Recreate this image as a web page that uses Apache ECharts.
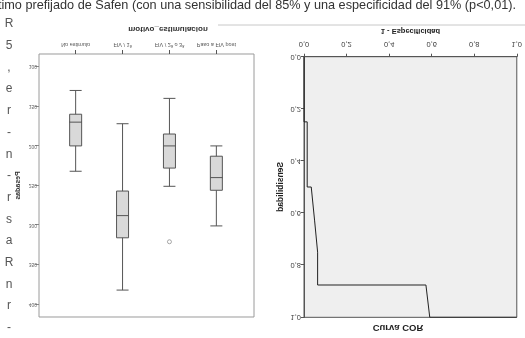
<!DOCTYPE html>
<html>
<head>
<meta charset="utf-8">
<script src="https://cdn.jsdelivr.net/npm/echarts@6/dist/echarts.min.js"></script>
<style>
html,body{margin:0;padding:0;background:#fff;}
#page,#flip{position:absolute;left:0;top:0;width:525px;height:338px;}
#flip{transform:scaleY(-1);}
</style>
</head>
<body>
<div id="page"></div>
<div id="flip"></div>
<script>
// ---- data ----
const categories = ['No estimulo', 'FIV / 1ª', 'FIV / 2ª o 3ª', 'Paso a FIV post'];
const boxMin    = [130, 172, 140, 200];
const boxQ1     = [160, 257, 185, 213];
const boxMedian = [170, 288, 200, 240];
const boxQ3     = [200, 316, 228, 256];
const boxMax    = [232, 382, 251, 301];
const outliers  = [[2, 321]];
const boxTicks  = [100, 150, 200, 250, 300, 350, 400];

const rocFpr = [0, 0, 0.015, 0.015, 0.034, 0.05, 0.064, 0.064, 0.573, 0.591, 1];
const rocTpr = [0, 0.25, 0.25, 0.5, 0.5, 0.63, 0.75, 0.876, 0.876, 1, 1];

const headerText = 'corte óptimo prefijado de Safen (con una sensibilidad del 85% y una especificidad del 91% (p<0,01).';
const marginChars = ['R', '5', ',', 'e', 'r', '-', 'n', '-', 'r', 's', 'a', 'R', 'n', 'r', '-'];

const FONT = 'Liberation Sans, Arial, sans-serif';

// ---- page (unflipped) ----
const page = echarts.init(document.getElementById('page'), null, {renderer: 'canvas'});
const pageGraphics = [
  {type: 'text', x: 516, y: 5, style: {text: headerText, font: '12.7px ' + FONT, fill: '#333', textAlign: 'right', textVerticalAlign: 'middle'}},
  {type: 'line', shape: {x1: 218, y1: 25, x2: 525, y2: 25}, style: {stroke: '#c8c8c8', lineWidth: 1}}
];
marginChars.forEach((c, i) => {
  pageGraphics.push({type: 'text', x: 9, y: 24 + i * 21.7, style: {text: c, font: '12px ' + FONT, fill: '#555', textAlign: 'center', textVerticalAlign: 'middle'}});
});
page.setOption({animation: false, graphic: pageGraphics});

// ---- charts (drawn upright, shown flipped like the scan) ----
const flip = echarts.init(document.getElementById('flip'), null, {renderer: 'canvas'});
const boxData = categories.map((c, i) => [boxMin[i], boxQ1[i], boxMedian[i], boxQ3[i], boxMax[i]]);
const fmt = v => v.toFixed(1).replace('.', ',');

flip.setOption({
  animation: false,
  backgroundColor: 'transparent',
  title: {
    text: 'Curva COR', left: 398, top: 5, textAlign: 'center', padding: 0,
    textStyle: {fontFamily: FONT, fontSize: 9.5, fontWeight: 'bold', color: '#222'}
  },
  grid: [
    {left: 39, right: 271, top: 21, bottom: 54, show: true, borderColor: '#9a9a9a', borderWidth: 1, backgroundColor: '#fff'},
    {left: 52.2, right: 285.2, top: 21, bottom: 54},
    {left: 304, right: 2.3, top: 20.7, bottom: 56.7, show: true, borderColor: '#555', borderWidth: 1, backgroundColor: '#efefef'}
  ],
  xAxis: [
    {gridIndex: 0, type: 'value', min: 0, max: 1, show: false},
    {
      gridIndex: 1, type: 'category', data: categories, position: 'bottom',
      axisLine: {show: false},
      axisTick: {show: true, alignWithLabel: true, length: 4, lineStyle: {color: '#555'}},
      axisLabel: {fontFamily: FONT, fontSize: 5.5, color: '#555', margin: 6, interval: 0, hideOverlap: false},
      name: 'motivo_estimulacion', nameLocation: 'middle', nameGap: 21,
      nameTextStyle: {fontFamily: FONT, fontSize: 8, fontWeight: 'bold', color: '#333', padding: [0, 0, 0, 44]}
    },
    {
      gridIndex: 2, type: 'value', min: 0, max: 1, interval: 0.2, position: 'bottom',
      axisLine: {lineStyle: {color: '#555'}},
      axisTick: {length: 3, lineStyle: {color: '#555'}},
      axisLabel: {fontFamily: FONT, fontSize: 7.5, color: '#444', margin: 9, formatter: fmt},
      splitLine: {show: false},
      name: '1 - Especificidad', nameLocation: 'middle', nameGap: 22,
      nameTextStyle: {fontFamily: FONT, fontSize: 7.5, fontWeight: 'bold', color: '#222'}
    }
  ],
  yAxis: [
    {
      gridIndex: 0, type: 'value', min: 84, max: 416,
      axisLine: {show: false},
      axisTick: {show: true, length: 4, customValues: boxTicks, lineStyle: {color: '#888'}},
      axisLabel: {fontFamily: FONT, fontSize: 5, color: '#666', margin: 2, customValues: boxTicks},
      splitLine: {show: false},
      name: 'Pesadas', nameLocation: 'middle', nameGap: 17,
      nameTextStyle: {fontFamily: FONT, fontSize: 7, fontWeight: 'bold', color: '#333'}
    },
    {gridIndex: 1, type: 'value', min: 84, max: 416, show: false},
    {
      gridIndex: 2, type: 'value', min: 0, max: 1, interval: 0.2,
      axisLine: {lineStyle: {color: '#555'}},
      axisTick: {length: 3, lineStyle: {color: '#555'}},
      axisLabel: {fontFamily: FONT, fontSize: 7.5, color: '#444', margin: 3, formatter: fmt},
      splitLine: {show: false},
      name: 'Sensibilidad', nameLocation: 'middle', nameGap: 19,
      nameTextStyle: {fontFamily: FONT, fontSize: 8.5, fontWeight: 'bold', color: '#222'}
    }
  ],
  series: [
    {
      type: 'boxplot', xAxisIndex: 1, yAxisIndex: 1, data: boxData, boxWidth: [12, 12],
      itemStyle: {color: '#d9d9d9', borderColor: '#555', borderWidth: 1}
    },
    {
      type: 'custom', xAxisIndex: 1, yAxisIndex: 1,
      data: boxMedian.map((m, i) => [i, m]),
      renderItem: (params, api) => {
        const c = api.coord([api.value(0), api.value(1)]);
        return {type: 'line', shape: {x1: c[0] - 6, y1: c[1], x2: c[0] + 6, y2: c[1]}, style: {stroke: '#111', lineWidth: 2}};
      }
    },
    {
      type: 'scatter', xAxisIndex: 1, yAxisIndex: 1, data: outliers,
      symbol: 'circle', symbolSize: 4,
      itemStyle: {color: '#fff', borderColor: '#777', borderWidth: 0.8}
    },
    {
      type: 'line', xAxisIndex: 2, yAxisIndex: 2,
      data: rocFpr.map((x, i) => [x, rocTpr[i]]),
      showSymbol: false, symbol: 'none',
      lineStyle: {color: '#222', width: 1}
    }
  ]
});
</script>
</body>
</html>
